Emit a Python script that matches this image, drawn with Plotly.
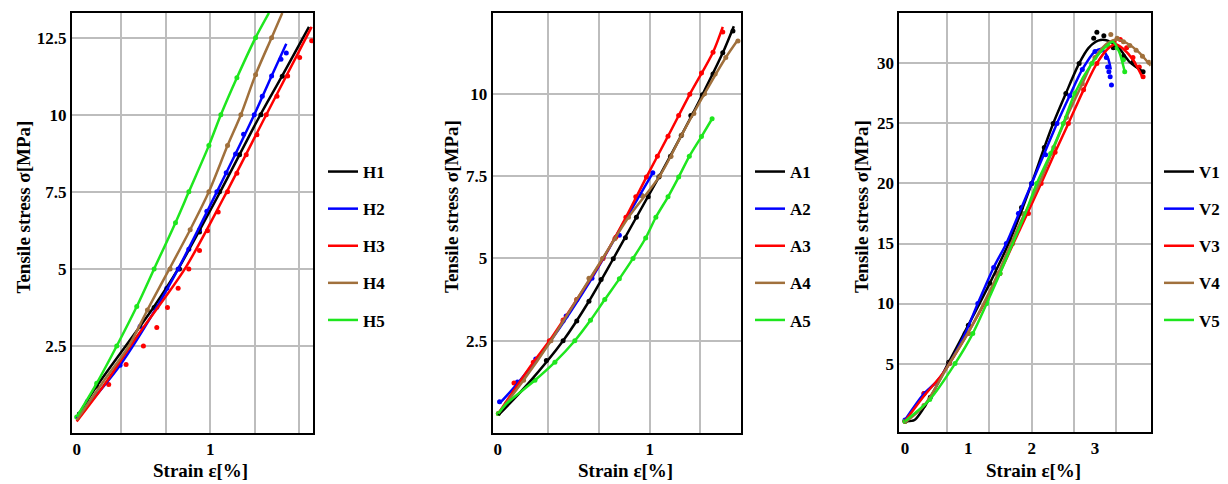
import plotly.graph_objects as go

# ---------------- Panel 1 (H) ----------------
h_names = ["H1", "H2", "H3", "H4", "H5"]
h1_fx = [0.01, 0.15, 0.575, 0.76, 1.075, 1.376, 1.54, 1.74]
h1_fy = [0.25, 1.2, 3.75, 5.0, 7.5, 10.0, 11.27, 12.85]
h1_px = [0.02, 0.15, 0.58, 0.77, 0.92, 1.07, 1.22, 1.38, 1.54]
h1_py = [0.3, 1.2, 3.75, 5.0, 6.2, 7.5, 8.7, 10.0, 11.25]

h2_fx = [0.0, 0.325, 0.6, 0.76, 1.05, 1.33, 1.46, 1.57]
h2_fy = [0.15, 1.88, 3.76, 5.0, 7.5, 10.0, 11.26, 12.3]
h2_px = [0.08, 0.325, 0.4, 0.475, 0.6, 0.675, 0.76, 0.84, 0.92, 0.975, 1.05, 1.12, 1.19, 1.25, 1.33, 1.39, 1.46, 1.53, 1.57]
h2_py = [0.7, 1.88, 2.5, 3.13, 3.76, 4.37, 5.0, 5.64, 6.27, 6.87, 7.5, 8.12, 8.73, 9.37, 10.0, 10.6, 11.26, 11.8, 12.0]

h3_fx = [0.0, 0.2, 0.45, 0.81, 1.1, 1.42, 1.76]
h3_fy = [0.05, 1.2, 2.8, 5.0, 7.3, 10.0, 12.85]
h3_px = [0.24, 0.37, 0.5, 0.6, 0.68, 0.76, 0.84, 0.92, 0.98, 1.06, 1.13, 1.2, 1.27, 1.35, 1.42, 1.5, 1.58, 1.67, 1.76]
h3_py = [1.25, 1.9, 2.5, 3.1, 3.75, 4.37, 5.0, 5.6, 6.24, 6.85, 7.5, 8.1, 8.7, 9.35, 10.0, 10.6, 11.26, 11.86, 12.4]

h4_fx = [0.0, 0.2, 0.39, 0.53, 0.85, 0.99, 1.13, 1.23, 1.34, 1.46, 1.54]
h4_fy = [0.1, 1.35, 2.5, 3.67, 6.27, 7.5, 9.0, 10.0, 11.3, 12.5, 13.3]
h4_px = [0.39, 0.53, 0.7, 0.85, 0.99, 1.13, 1.23, 1.34, 1.46]
h4_py = [2.5, 3.67, 5.0, 6.27, 7.5, 9.0, 10.0, 11.3, 12.5]

h5_fx = [0.0, 0.15, 0.3, 0.45, 0.58, 0.74, 0.84, 0.99, 1.08, 1.2, 1.34, 1.44]
h5_fy = [0.2, 1.29, 2.5, 3.78, 5.0, 6.5, 7.5, 9.0, 10.0, 11.2, 12.5, 13.3]
h5_px = [0.0, 0.15, 0.3, 0.45, 0.58, 0.74, 0.84, 0.99, 1.08, 1.2, 1.34]
h5_py = [0.2, 1.29, 2.5, 3.78, 5.0, 6.5, 7.5, 9.0, 10.0, 11.2, 12.5]

# ---------------- Panel 2 (A) ----------------
a_names = ["A1", "A2", "A3", "A4", "A5"]
a1_fx = [0.004, 0.2, 0.43, 0.6, 0.76, 0.912, 1.06, 1.207, 1.346, 1.48, 1.553]
a1_fy = [0.24, 1.2, 2.5, 3.7, 4.99, 6.25, 7.47, 8.73, 9.97, 11.24, 12.05]
a1_px = [0.32, 0.43, 0.52, 0.6, 0.68, 0.76, 0.84, 0.912, 0.99, 1.06, 1.136, 1.207, 1.27, 1.346, 1.416, 1.48, 1.547]
a1_py = [1.9, 2.5, 3.1, 3.7, 4.36, 4.99, 5.63, 6.25, 6.87, 7.47, 8.1, 8.73, 9.34, 9.97, 10.6, 11.24, 11.9]

a2_fx = [0.012, 0.13, 0.34, 0.606, 0.843, 1.02]
a2_fy = [0.6, 1.2, 2.45, 4.3, 6.2, 7.6]
a2_px = [0.012, 0.13, 0.25, 0.45, 0.62, 0.8, 0.95, 1.02]
a2_py = [0.65, 1.25, 1.95, 3.25, 4.4, 5.7, 6.9, 7.6]

a3_fx = [0.004, 0.107, 0.234, 0.34, 0.52, 0.693, 0.843, 0.978, 1.12, 1.263, 1.416, 1.48]
a3_fy = [0.29, 1.0, 1.85, 2.5, 3.75, 5.0, 6.25, 7.47, 8.71, 9.98, 11.26, 12.03]
a3_px = [0.004, 0.107, 0.234, 0.34, 0.43, 0.52, 0.606, 0.693, 0.777, 0.843, 0.908, 0.978, 1.05, 1.12, 1.19, 1.263, 1.34, 1.416, 1.48]
a3_py = [0.29, 1.22, 1.85, 2.5, 3.13, 3.75, 4.38, 5.0, 5.64, 6.25, 6.87, 7.47, 8.1, 8.71, 9.34, 9.98, 10.63, 11.26, 11.87]

a4_fx = [0.004, 0.17, 0.35, 0.52, 0.69, 0.86, 1.065, 1.21, 1.36, 1.5, 1.58]
a4_fy = [0.3, 1.3, 2.5, 3.75, 5.0, 6.25, 7.5, 8.75, 10.0, 11.1, 11.64]
a4_px = [0.17, 0.35, 0.43, 0.52, 0.6, 0.69, 0.77, 0.86, 0.95, 1.065, 1.14, 1.21, 1.29, 1.36, 1.43, 1.5, 1.58]
a4_py = [1.3, 2.5, 3.1, 3.75, 4.4, 5.0, 5.6, 6.25, 6.9, 7.5, 8.1, 8.75, 9.4, 10.0, 10.6, 11.1, 11.6]

a5_fx = [0.004, 0.06, 0.245, 0.376, 0.507, 0.61, 0.704, 0.8, 0.89, 0.973, 1.04, 1.12, 1.19, 1.26, 1.34, 1.41]
a5_fy = [0.29, 0.6, 1.3, 1.85, 2.5, 3.12, 3.75, 4.38, 5.0, 5.62, 6.25, 6.87, 7.47, 8.1, 8.7, 9.24]
a5_px = a5_fx
a5_py = a5_fy

# ---------------- Panel 3 (V) ----------------
v_names = ["V1", "V2", "V3", "V4", "V5"]
v1_fx = [0.0, 0.15, 0.4, 0.69, 1.0, 1.34, 1.66, 2.0, 2.2, 2.34, 2.54, 2.75, 2.9, 3.05, 3.2, 3.39, 3.55, 3.76]
v1_fy = [0.2, 0.3, 2.2, 5.1, 8.2, 11.7, 15.3, 20.0, 23.0, 25.0, 27.5, 30.0, 31.3, 31.9, 31.9, 31.2, 30.1, 29.3]
v1_px = [0.0, 0.4, 0.69, 1.0, 1.34, 1.66, 1.84, 2.0, 2.2, 2.34, 2.54, 2.75, 2.98, 3.03, 3.14, 3.29, 3.45, 3.6, 3.76]
v1_py = [0.2, 2.2, 5.1, 8.2, 11.7, 15.3, 18.0, 20.0, 23.0, 25.0, 27.5, 30.0, 32.1, 32.6, 32.3, 31.3, 30.6, 30.1, 29.3]

v2_fx = [0.0, 0.3, 0.5, 0.7, 0.95, 1.15, 1.4, 1.6, 1.8, 2.0, 2.2, 2.4, 2.6, 2.8, 3.0, 3.1, 3.2, 3.25]
v2_fy = [0.3, 2.5, 3.5, 5.0, 7.5, 10.0, 13.0, 15.0, 17.5, 20.0, 22.5, 25.0, 27.3, 29.5, 31.0, 31.2, 30.5, 29.5]
v2_px = [0.0, 0.3, 0.7, 0.95, 1.15, 1.4, 1.6, 1.79, 2.0, 2.22, 2.4, 2.6, 2.8, 3.0, 3.1, 3.18, 3.2, 3.22, 3.24, 3.26]
v2_py = [0.3, 2.5, 5.0, 7.5, 10.0, 13.0, 15.0, 17.5, 20.0, 22.4, 25.0, 27.3, 29.5, 31.0, 31.1, 30.5, 29.7, 29.3, 28.9, 28.2]

v3_fx = [0.0, 0.3, 0.6, 1.0, 1.4, 1.8, 2.15, 2.37, 2.58, 2.82, 3.03, 3.2, 3.32, 3.45, 3.6, 3.76]
v3_fy = [0.2, 2.3, 4.2, 7.6, 11.5, 16.0, 20.0, 22.6, 25.0, 27.8, 30.0, 31.2, 31.6, 31.2, 30.3, 28.75]
v3_px = [0.0, 0.3, 0.7, 1.0, 1.5, 1.95, 2.15, 2.37, 2.58, 2.82, 3.03, 3.3, 3.4, 3.5, 3.6, 3.7, 3.76]
v3_py = [0.2, 2.5, 5.0, 7.5, 12.5, 17.5, 20.0, 22.6, 25.0, 27.8, 30.0, 31.8, 32.0, 31.3, 30.5, 29.7, 28.9]

v4_fx = [0.0, 0.3, 0.7, 1.0, 1.4, 1.8, 2.12, 2.35, 2.55, 2.8, 3.0, 3.2, 3.35, 3.5, 3.7, 3.88]
v4_fy = [0.1, 1.5, 5.0, 7.6, 11.7, 16.5, 20.0, 23.0, 25.5, 28.3, 30.5, 31.7, 32.0, 31.7, 30.9, 29.8]
v4_px = [0.3, 0.7, 1.0, 1.45, 1.85, 2.12, 2.35, 2.55, 2.8, 3.0, 3.25, 3.35, 3.45, 3.55, 3.65, 3.75, 3.85]
v4_py = [1.5, 5.0, 7.5, 12.5, 17.5, 20.0, 23.0, 25.5, 28.3, 30.5, 32.4, 32.1, 31.8, 31.5, 31.1, 30.6, 30.1]

v5_fx = [0.0, 0.39, 0.79, 1.07, 1.29, 1.5, 1.7, 1.9, 2.08, 2.3, 2.5, 2.68, 2.95, 3.15, 3.28, 3.38, 3.47]
v5_fy = [0.2, 2.0, 5.0, 7.5, 10.0, 12.5, 15.0, 17.5, 20.0, 22.5, 25.0, 27.5, 30.0, 31.3, 31.8, 31.0, 29.3]
v5_px = [0.0, 0.39, 0.79, 1.07, 1.29, 1.5, 1.7, 1.9, 2.08, 2.3, 2.5, 2.68, 2.95, 3.2, 3.35, 3.45, 3.47]
v5_py = [0.2, 2.0, 5.0, 7.5, 10.0, 12.5, 15.0, 17.5, 20.0, 22.5, 25.0, 27.5, 30.0, 31.5, 31.3, 30.3, 29.3]

colors = ["#000000", "#0000ff", "#ff0000", "#a0703c", "#1ee61e"]

panels = [
    (h_names, [(h1_fx, h1_fy, h1_px, h1_py), (h2_fx, h2_fy, h2_px, h2_py), (h3_fx, h3_fy, h3_px, h3_py),
               (h4_fx, h4_fy, h4_px, h4_py), (h5_fx, h5_fy, h5_px, h5_py)]),
    (a_names, [(a1_fx, a1_fy, a1_px, a1_py), (a2_fx, a2_fy, a2_px, a2_py), (a3_fx, a3_fy, a3_px, a3_py),
               (a4_fx, a4_fy, a4_px, a4_py), (a5_fx, a5_fy, a5_px, a5_py)]),
    (v_names, [(v1_fx, v1_fy, v1_px, v1_py), (v2_fx, v2_fy, v2_px, v2_py), (v3_fx, v3_fy, v3_px, v3_py),
               (v4_fx, v4_fy, v4_px, v4_py), (v5_fx, v5_fy, v5_px, v5_py)]),
]

W, H = 1228, 484
FONT = "Liberation Serif"


def fx_(px):
    return px / W


def fy_(py):
    return 1 - py / H


fig = go.Figure()
legend_ids = ["legend", "legend2", "legend3"]
for p, (names, series) in enumerate(panels):
    xa = "x" if p == 0 else f"x{p+1}"
    ya = "y" if p == 0 else f"y{p+1}"
    for i, (fx, fy, px, py) in enumerate(series):
        fig.add_trace(go.Scatter(x=px, y=py, mode="markers", xaxis=xa, yaxis=ya,
                                 marker=dict(color=colors[i], size=5), showlegend=False,
                                 hoverinfo="skip"))
    for i, (fx, fy, px, py) in enumerate(series):
        fig.add_trace(go.Scatter(x=fx, y=fy, mode="lines", name=names[i], xaxis=xa, yaxis=ya,
                                 line=dict(color=colors[i], width=2.5, shape="spline", smoothing=0.8),
                                 legend=legend_ids[p], legendgroup=f"{p}-{i}"))

# plot-area page-pixel boxes (left, right, top, bottom)
boxes = [(72, 313, 13, 433), (492.7, 741, 13, 433), (899.3, 1150.7, 13, 432)]
xranges = [[-0.035, 1.77], [-0.033, 1.6], [-0.09, 3.88]]
yranges = [[-0.32, 13.3], [-0.3, 12.45], [-0.7, 34.2]]
xticks = [[0, 1], [0, 1], [0, 1, 2, 3]]
xgrid = [[1/3, 2/3, 1, 4/3, 5/3], [1/3, 2/3, 1, 4/3], [2/3, 4/3, 2, 8/3, 10/3]]
yticks = [[2.5, 5, 7.5, 10, 12.5], [2.5, 5, 7.5, 10], [5, 10, 15, 20, 25, 30]]
ylabels = [["2.5", "5", "7.5", "10", "12.5"], ["2.5", "5", "7.5", "10"], ["5", "10", "15", "20", "25", "30"]]

tickfont = dict(family=FONT, size=17, color="black", weight="bold")
grid = "#bdbdbd"
layout = {}
for p in range(3):
    l, r, t, b = boxes[p]
    xk = "xaxis" if p == 0 else f"xaxis{p+1}"
    yk = "yaxis" if p == 0 else f"yaxis{p+1}"
    ya = "y" if p == 0 else f"y{p+1}"
    xa = "x" if p == 0 else f"x{p+1}"
    layout[xk] = dict(domain=[fx_(l), fx_(r)], range=xranges[p], anchor=ya,
                      tickvals=xticks[p], ticktext=[str(v) for v in xticks[p]],
                      showgrid=False, zeroline=False, ticks="",
                      showline=True, mirror=True, linecolor="black", linewidth=2,
                      tickfont=tickfont,
                      minor=dict(tickvals=xgrid[p], showgrid=True, gridcolor=grid, gridwidth=2, ticks=""))
    layout[yk] = dict(domain=[fy_(b), fy_(t)], range=yranges[p], anchor=xa,
                      tickvals=yticks[p], ticktext=ylabels[p],
                      showgrid=True, gridcolor=grid, gridwidth=2, zeroline=False, ticks="",
                      showline=True, mirror=True, linecolor="black", linewidth=2,
                      tickfont=tickfont)

legfont = dict(family=FONT, size=17, color="black", weight="bold")
leg_x = [323, 750, 1159]
for p in range(3):
    key = legend_ids[p]
    layout[key] = dict(x=fx_(leg_x[p]), xanchor="left", y=fy_(154), yanchor="top",
                       font=legfont, bgcolor="rgba(0,0,0,0)", tracegroupgap=12,
                       traceorder="grouped", itemwidth=30)

annotations = []
ytitle_x = [23.5, 452, 862]
xtitle_x = [200, 625.5, 1033]
tfont = dict(family=FONT, size=19, color="black", weight="bold")
for p in range(3):
    annotations.append(dict(text="Tensile stress σ[MPa]", x=fx_(ytitle_x[p]), y=fy_(207),
                            xref="paper", yref="paper", showarrow=False, textangle=-90,
                            font=tfont, xanchor="center", yanchor="middle"))
    annotations.append(dict(text="Strain ε[%]", x=fx_(xtitle_x[p]), y=fy_(470),
                            xref="paper", yref="paper", showarrow=False,
                            font=tfont, xanchor="center", yanchor="middle"))

fig.update_layout(width=W, height=H, margin=dict(l=0, r=0, t=0, b=0),
                  paper_bgcolor="white", plot_bgcolor="white", hovermode=False,
                  annotations=annotations, **layout)

fig.write_html("out.html", config={"displayModeBar": False},
               post_script="document.body.style.margin='0';document.body.style.overflow='hidden';")
